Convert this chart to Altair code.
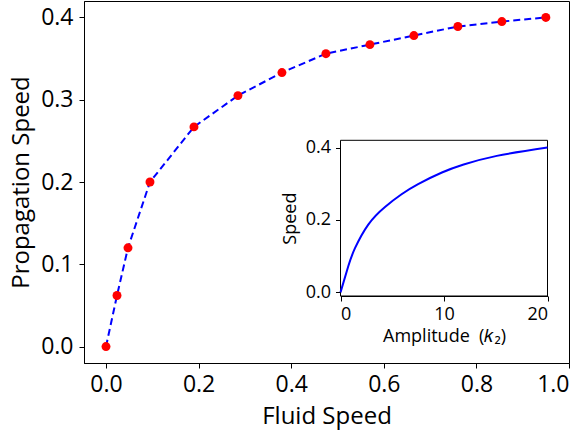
import altair as alt
import pandas as pd

# ---- data ----
FLUID_SPEED = [0.0, 0.02375, 0.0475, 0.095, 0.19, 0.285, 0.38, 0.475, 0.57, 0.665, 0.76, 0.855, 0.95]
PROPAGATION_SPEED = [0.0, 0.062, 0.12, 0.2, 0.267, 0.305, 0.333, 0.356, 0.367, 0.378, 0.389, 0.395, 0.4]

AMPLITUDE = [0, 0.75, 1.4, 2.7, 4.3, 5.9, 7.5, 9.8, 11.9, 15.1, 20]
INSET_SPEED = [0.0, 0.072, 0.122, 0.188, 0.236, 0.271, 0.299, 0.331, 0.353, 0.377, 0.4]

MAIN_X_TICKS = [0.0, 0.2, 0.4, 0.6, 0.8, 1.0]
MAIN_Y_TICKS = [0.0, 0.1, 0.2, 0.3, 0.4]
INSET_X_TICKS = [0, 10, 20]
INSET_Y_TICKS = [0.0, 0.2, 0.4]

MAIN_X_DOMAIN = [-0.0475, 1.0]
MAIN_Y_DOMAIN = [-0.02, 0.42]
INSET_X_DOMAIN = [0, 20]
INSET_Y_DOMAIN = [-0.01, 0.42]

main_df = pd.DataFrame({"fluid": FLUID_SPEED, "prop": PROPAGATION_SPEED})
inset_df = pd.DataFrame({"k": AMPLITUDE, "v": INSET_SPEED})
frame_df = pd.DataFrame({
    "k": [INSET_X_DOMAIN[0]], "k2": [INSET_X_DOMAIN[1]],
    "v": [INSET_Y_DOMAIN[0]], "v2": [INSET_Y_DOMAIN[1]],
})

FONT = "Open Sans"
W, H = 485, 362

# ---- main plot ----
main_x = alt.X(
    "fluid:Q",
    scale=alt.Scale(domain=MAIN_X_DOMAIN, nice=False, zero=False),
    axis=alt.Axis(values=MAIN_X_TICKS, format=".1f", title="Fluid Speed",
                  labelFontSize=23, titleFontSize=24, tickSize=5,
                  labelPadding=5, titlePadding=8, grid=False, orient="bottom"),
)
main_y = alt.Y(
    "prop:Q",
    scale=alt.Scale(domain=MAIN_Y_DOMAIN, nice=False, zero=False),
    axis=alt.Axis(values=MAIN_Y_TICKS, format=".1f", title="Propagation Speed",
                  labelFontSize=23, titleFontSize=24, tickSize=5,
                  labelPadding=6, titlePadding=7, grid=False, orient="left"),
)

main_line = alt.Chart(main_df).mark_line(
    color="#0000ff", strokeWidth=2, strokeDash=[7, 4]
).encode(x=main_x, y=main_y)

main_pts = alt.Chart(main_df).mark_circle(
    color="#ff0000", size=80, opacity=1
).encode(x=main_x, y=main_y)

main_layer = alt.layer(main_line, main_pts)

# ---- inset ----
inset_x_axis = alt.Axis(values=INSET_X_TICKS, format="d",
                        title="Amplitude\u00a0\u00a0(\U0001D458\u2082)",
                        labelFontSize=18, titleFontSize=18, tickSize=5,
                        labelPadding=4, titlePadding=4, grid=False,
                        orient="bottom", offset=-67)
inset_y_axis = alt.Axis(values=INSET_Y_TICKS, format=".1f", title="Speed",
                        labelFontSize=18, titleFontSize=18, tickSize=5,
                        labelPadding=5, titlePadding=6, grid=False,
                        orient="left", offset=-256.5)
inset_x_scale = alt.Scale(domain=INSET_X_DOMAIN, range=[256.5, 463.5], nice=False, zero=False)
inset_y_scale = alt.Scale(domain=INSET_Y_DOMAIN, range=[295, 139.3], nice=False, zero=False)

frame = alt.Chart(frame_df).mark_rect(
    fill="white", stroke="black", strokeWidth=1
).encode(
    x=alt.X("k:Q", scale=inset_x_scale, axis=inset_x_axis),
    x2="k2:Q",
    y=alt.Y("v:Q", scale=inset_y_scale, axis=inset_y_axis),
    y2="v2:Q",
)

inset_line = alt.Chart(inset_df).mark_line(
    color="#0000ff", strokeWidth=2, interpolate="natural"
).encode(
    x=alt.X("k:Q", scale=inset_x_scale, axis=inset_x_axis),
    y=alt.Y("v:Q", scale=inset_y_scale, axis=inset_y_axis),
)

inset_layer = alt.layer(frame, inset_line)

chart = alt.layer(main_layer, inset_layer).resolve_scale(
    x="independent", y="independent"
).properties(
    width=W, height=H,
    padding={"left": 84, "top": 1, "right": 17, "bottom": 72},
    autosize=alt.AutoSizeParams(type="none"),
).configure_view(
    stroke="black", strokeWidth=1
).configure_axis(
    labelFont=FONT, titleFont=FONT, labelColor="black", titleColor="black",
    domainColor="black", tickColor="black", titleFontWeight="normal",
    domainWidth=1, tickWidth=1,
)

chart.save("out.html", embed_options={"renderer": "svg", "actions": False})
